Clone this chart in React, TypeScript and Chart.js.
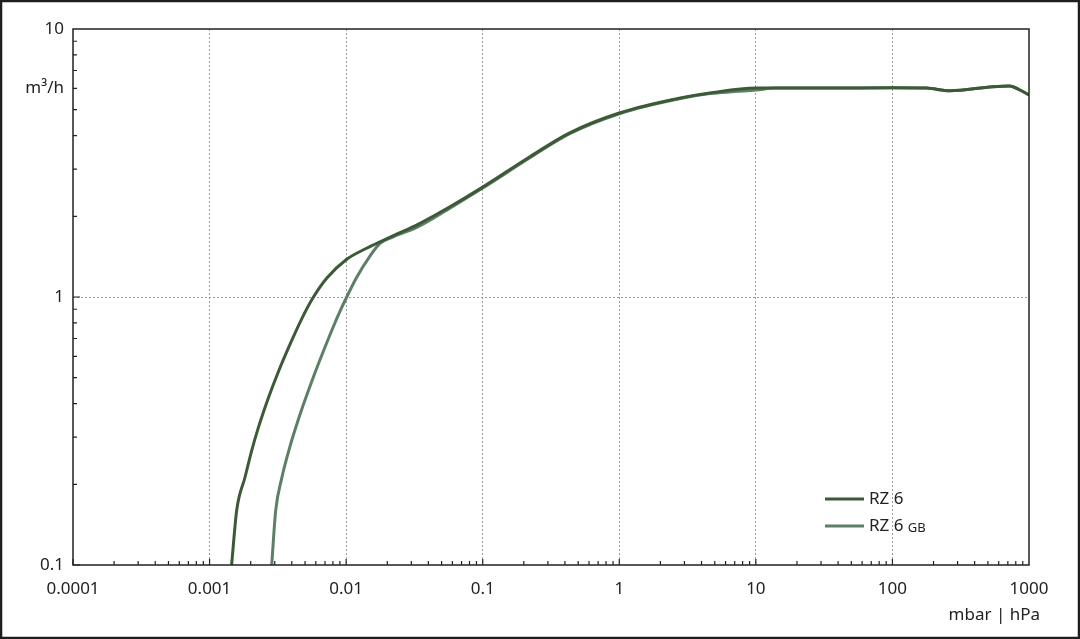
import React, { useEffect, useRef } from 'react';
import { Chart, registerables } from 'chart.js';

Chart.register(...registerables);

// pressure in mbar, throughput in m³/h
const rz6Pressure = [0.00145, 0.00158, 0.00182, 0.00203, 0.00227, 0.00269, 0.00318, 0.00399, 0.00472, 0.00562, 0.0072, 0.0101, 0.0141, 0.0187, 0.0248, 0.0328, 0.0575, 0.1, 0.22, 0.43, 1, 2.8, 4.6, 10, 33, 100, 178, 263, 543, 723, 857, 1000];
const rz6Flow = [0.1, 0.16, 0.213, 0.266, 0.324, 0.419, 0.524, 0.687, 0.827, 0.978, 1.174, 1.383, 1.52, 1.628, 1.739, 1.855, 2.171, 2.57, 3.33, 4.09, 4.86, 5.53, 5.77, 6.02, 6.02, 6.04, 6.02, 5.88, 6.09, 6.13, 5.92, 5.67];

const gbPressure = [0.00285, 0.00305, 0.00337, 0.00388, 0.00422, 0.00485, 0.00574, 0.0068, 0.00804, 0.00927, 0.0101, 0.0119, 0.0149, 0.0177, 0.0221, 0.0328, 0.0575, 0.1, 0.22, 0.43, 1, 2.8, 4.6, 7, 10, 14, 33, 100, 178, 263, 543, 723, 857, 1000];
const gbFlow = [0.1, 0.16, 0.21, 0.277, 0.319, 0.395, 0.501, 0.626, 0.773, 0.912, 1.0, 1.18, 1.418, 1.585, 1.677, 1.818, 2.146, 2.55, 3.3, 4.06, 4.83, 5.5, 5.74, 5.84, 5.92, 6.02, 6.02, 6.04, 6.02, 5.88, 6.09, 6.13, 5.92, 5.67];

const xTickValues = [0.0001, 0.001, 0.01, 0.1, 1, 10, 100, 1000];
const xTickLabels = ['0.0001', '0.001', '0.01', '0.1', '1', '10', '100', '1000'];
const yTickValues = [0.1, 1, 6, 10];
const yTickLabels = ['0.1', '1', 'm³/h', '10'];

const seriesNames = ['RZ 6', 'RZ 6'];
const seriesSuffix = ['', 'GB'];
const seriesColors = ['#3d5a37', '#5c7f66'];
const xUnit = 'mbar | hPa';

const FONT = '"Noto Sans", sans-serif';
const INK = '#222222';

const decorPlugin = {
  id: 'decor',
  afterDraw(chart: any) {
    const { ctx, chartArea: a, scales } = chart;
    const xs = scales.x;
    const ys = scales.y;
    ctx.save();

    // outer frame
    ctx.strokeStyle = '#1e1e1e';
    ctx.lineWidth = 2.5;
    ctx.strokeRect(1, 1, chart.width - 2, chart.height - 2);

    // plot frame
    ctx.strokeStyle = INK;
    ctx.lineWidth = 1.5;
    ctx.strokeRect(a.left, a.top, a.right - a.left, a.bottom - a.top);

    // inward ticks
    ctx.lineWidth = 1.2;
    ctx.beginPath();
    for (let e = -4; e <= 2; e++) {
      for (let k = 1; k <= 9; k++) {
        const v = k * Math.pow(10, e);
        const px = xs.getPixelForValue(v);
        const len = k === 1 ? 6 : 4;
        ctx.moveTo(px, a.bottom);
        ctx.lineTo(px, a.bottom - len);
      }
    }
    for (let e = -1; e <= 0; e++) {
      for (let k = 1; k <= 9; k++) {
        const v = k * Math.pow(10, e);
        const py = ys.getPixelForValue(v);
        const len = k === 1 ? 7 : 4;
        ctx.moveTo(a.left, py);
        ctx.lineTo(a.left + len, py);
      }
    }
    ctx.stroke();

    // legend
    const lx = 825;
    const rows = [499, 526];
    rows.forEach((y, i) => {
      ctx.strokeStyle = seriesColors[i];
      ctx.lineWidth = 3;
      ctx.beginPath();
      ctx.moveTo(lx, y);
      ctx.lineTo(lx + 39, y);
      ctx.stroke();
      ctx.fillStyle = INK;
      ctx.textBaseline = 'middle';
      ctx.textAlign = 'left';
      ctx.font = `17px ${FONT}`;
      ctx.fillText(seriesNames[i], lx + 44, y);
      if (seriesSuffix[i]) {
        const w = ctx.measureText(seriesNames[i] + ' ').width;
        ctx.font = `13px ${FONT}`;
        ctx.fillText(seriesSuffix[i], lx + 44 + w, y + 2);
      }
    });

    // x unit
    ctx.fillStyle = INK;
    ctx.font = `17px ${FONT}`;
    ctx.textAlign = 'right';
    ctx.textBaseline = 'alphabetic';
    ctx.fillText(xUnit, 1040, 620);

    ctx.restore();
  },
};

const PumpCurveChart: React.FC = () => {
  const canvasRef = useRef<HTMLCanvasElement>(null);

  useEffect(() => {
    if (!canvasRef.current) return;
    const chart = new Chart(canvasRef.current, {
      type: 'line',
      data: {
        datasets: [
          {
            label: 'RZ 6',
            data: rz6Pressure.map((x, i) => ({ x, y: rz6Flow[i] })),
            borderColor: seriesColors[0],
            borderWidth: 3,
            pointRadius: 0,
            cubicInterpolationMode: 'monotone',
            fill: false,
          },
          {
            label: 'RZ 6 GB',
            data: gbPressure.map((x, i) => ({ x, y: gbFlow[i] })),
            borderColor: seriesColors[1],
            borderWidth: 3,
            pointRadius: 0,
            cubicInterpolationMode: 'monotone',
            fill: false,
          },
        ],
      },
      options: {
        animation: false,
        responsive: true,
        maintainAspectRatio: false,
        layout: { padding: { top: 29, right: 51, left: 0, bottom: 0 } },
        plugins: { legend: { display: false }, tooltip: { enabled: false } },
        scales: {
          x: {
            type: 'logarithmic',
            min: 0.0001,
            max: 1000,
            afterBuildTicks: (axis: any) => {
              axis.ticks = xTickValues.map((value) => ({ value }));
            },
            afterFit: (axis: any) => {
              axis.height = 74;
            },
            ticks: {
              autoSkip: false,
              maxRotation: 0,
              padding: 14,
              color: INK,
              font: { family: FONT, size: 17 },
              callback: (value: any) => {
                const i = xTickValues.findIndex((v) => Math.abs(v - value) / v < 1e-6);
                return i >= 0 ? xTickLabels[i] : '';
              },
            },
            grid: {
              drawTicks: false,
              lineWidth: 1,
              color: (c: any) => {
                const v = c.tick ? c.tick.value : 0;
                return v > 0.0001 && v < 1000 ? '#9a9a9a' : 'transparent';
              },
            },
            border: { display: false, dash: [2, 2] },
          },
          y: {
            type: 'logarithmic',
            min: 0.1,
            max: 10,
            afterBuildTicks: (axis: any) => {
              axis.ticks = yTickValues.map((value) => ({ value }));
            },
            afterFit: (axis: any) => {
              axis.width = 73;
            },
            ticks: {
              autoSkip: false,
              padding: 9,
              color: INK,
              font: { family: FONT, size: 17 },
              callback: (value: any) => {
                const i = yTickValues.findIndex((v) => Math.abs(v - value) / v < 1e-6);
                return i >= 0 ? yTickLabels[i] : '';
              },
            },
            grid: {
              drawTicks: false,
              lineWidth: 1,
              color: (c: any) => (c.tick && c.tick.value === 1 ? '#9a9a9a' : 'transparent'),
            },
            border: { display: false, dash: [2, 2] },
          },
        },
      } as any,
      plugins: [decorPlugin],
    });
    return () => chart.destroy();
  }, []);

  return (
    <div style={{ position: 'absolute', left: 0, top: 0, width: 1080, height: 639, background: '#fff' }}>
      <canvas ref={canvasRef} aria-label="Pump curve chart"></canvas>
    </div>
  );
};

export default function App() {
  return <PumpCurveChart />;
}
